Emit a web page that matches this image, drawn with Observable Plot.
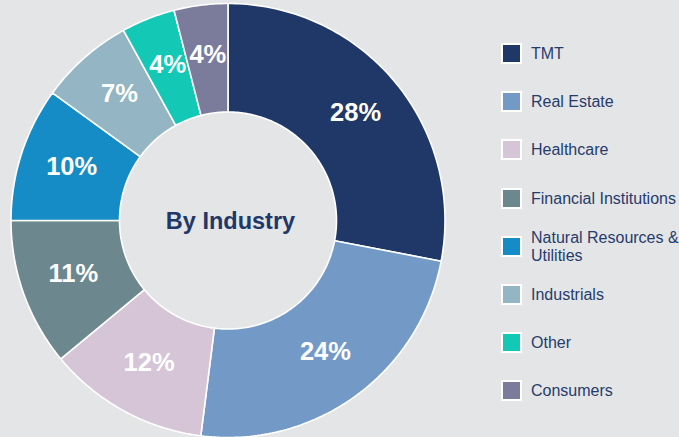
<!DOCTYPE html>
<html>
<head>
<meta charset="utf-8">
<script src="https://cdn.jsdelivr.net/npm/d3@7"></script>
<script src="https://cdn.jsdelivr.net/npm/@observablehq/plot@0.6"></script>
<style>
  html, body { margin: 0; padding: 0; background: #e4e5e6; }
  #wrap { position: relative; width: 679px; height: 437px; overflow: hidden; font-family: "Liberation Sans", Arial, sans-serif; }
  #chart { position: absolute; left: 0; top: 0; }
  #legend { position: absolute; left: 501px; top: 29.5px; }
  .row { display: flex; align-items: center; height: 48.2px; }
  .sw { box-sizing: border-box; width: 21px; height: 21px; border: 2px solid #ffffff; flex: none; }
  .lab { margin-left: 9px; font-size: 16px; line-height: 18.3px; color: #263c6c; white-space: nowrap; padding-top: 1px; }
</style>
</head>
<body>
<div id="wrap">
  <div id="chart"></div>
  <div id="legend"></div>
</div>
<script>
// ---- data ----
const categories = ["TMT", "Real Estate", "Healthcare", "Financial Institutions", "Natural Resources & Utilities", "Industrials", "Other", "Consumers"];
const shares = [28, 24, 12, 11, 10, 7, 4, 4];
const colors = ["#1f3868", "#739ac7", "#d6c5d6", "#6d878f", "#168cc6", "#93b5c4", "#13c9b5", "#7b7c9c"];
const centerTitle = "By Industry";

// ---- layout ----
const W = 679, H = 437;
const CX = 228, CY = 220.5, R = 217; // pixel center & radius
const INNER = 0.5, LABEL_R = 0.76;

const total = d3.sum(shares);
const slices = [];
let acc = 0;
categories.forEach((c, i) => {
  const a0 = acc / total * 2 * Math.PI;
  acc += shares[i];
  const a1 = acc / total * 2 * Math.PI;
  slices.push({cat: c, value: shares[i], a0, a1, mid: (a0 + a1) / 2});
});

const pts = [];
for (const s of slices) {
  const n = Math.max(8, Math.ceil((s.a1 - s.a0) / (Math.PI / 180)));
  for (let k = 0; k <= n; k++) {
    const a = s.a0 + (s.a1 - s.a0) * k / n;
    pts.push({cat: s.cat, xo: Math.sin(a), yo: Math.cos(a), xi: INNER * Math.sin(a), yi: INNER * Math.cos(a)});
  }
}

const labels = slices.map(s => ({
  text: s.value + "%",
  x: LABEL_R * Math.sin(s.mid),
  y: LABEL_R * Math.cos(s.mid)
}));

const chart = Plot.plot({
  width: W,
  height: H,
  margin: 0,
  style: {background: "transparent", fontFamily: "'Liberation Sans', Arial, sans-serif", overflow: "visible"},
  x: {domain: [-CX / R, (W - CX) / R], range: [0, W], axis: null},
  y: {domain: [-(H - CY) / R, CY / R], range: [H, 0], axis: null},
  color: {domain: categories, range: colors},
  marks: [
    Plot.area(pts, {x1: "xo", y1: "yo", x2: "xi", y2: "yi", z: "cat", fill: "cat", stroke: "#ffffff", strokeWidth: 1.6, strokeLinejoin: "miter"}),
    Plot.text(labels, {x: "x", y: "y", text: "text", fill: "#ffffff", fontSize: 25.5, fontWeight: "bold", dy: -3}),
    Plot.text([centerTitle], {x: 0, y: 0, text: d => d, fill: "#1f3868", fontSize: 23.5, fontWeight: "bold", dx: 2})
  ]
});
document.getElementById("chart").appendChild(chart);

const legend = document.getElementById("legend");
categories.forEach((c, i) => {
  const row = document.createElement("div");
  row.className = "row";
  const sw = document.createElement("div");
  sw.className = "sw";
  sw.style.background = colors[i];
  const lab = document.createElement("div");
  lab.className = "lab";
  lab.innerHTML = c.replace("& ", "&amp;<br>");
  row.appendChild(sw);
  row.appendChild(lab);
  legend.appendChild(row);
});
</script>
</body>
</html>
